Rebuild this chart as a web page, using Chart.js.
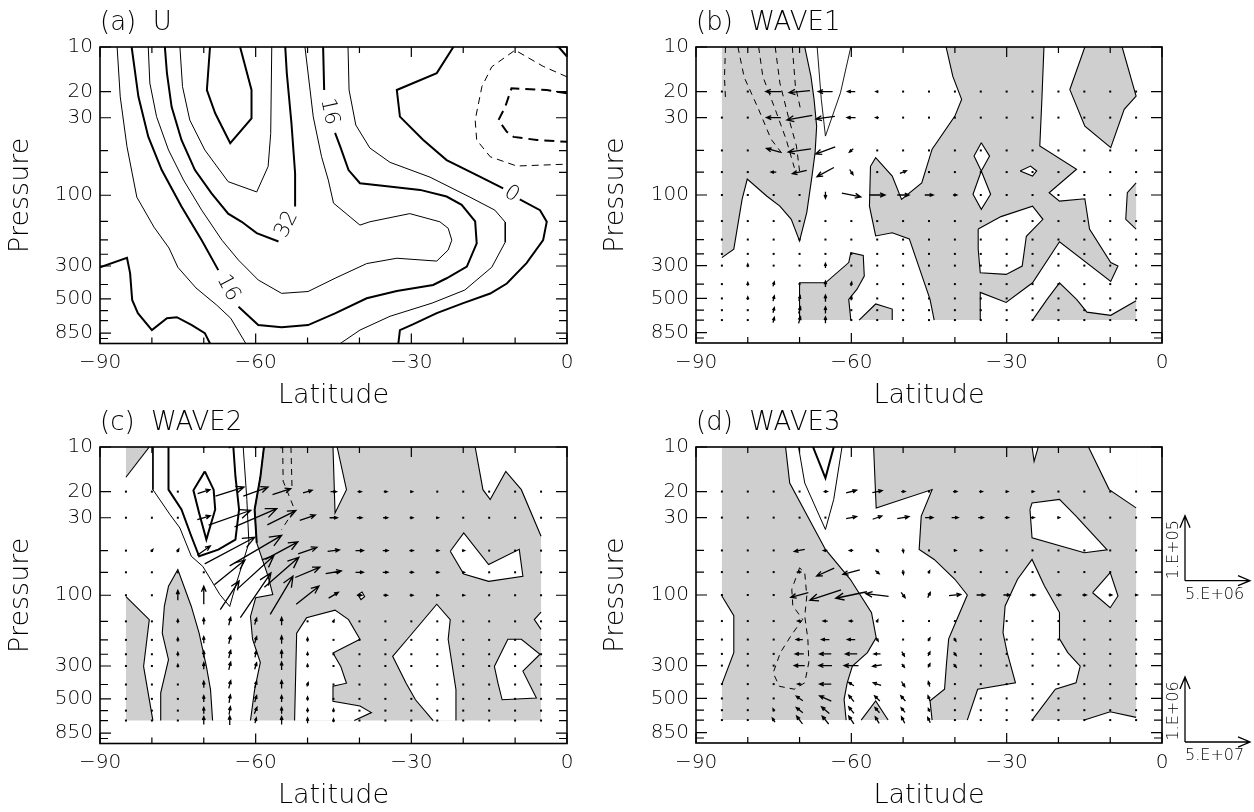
<!DOCTYPE html>
<html>
<head>
<meta charset="utf-8">
<title>U and wave activity flux</title>
<script src="https://cdn.jsdelivr.net/npm/chart.js@4.4.1/dist/chart.umd.min.js"></script>
<style>
  html, body { margin: 0; padding: 0; background: #fff; }
  body { width: 1254px; height: 812px; position: relative; overflow: hidden; }
  canvas { position: absolute; }
</style>
</head>
<body>
<canvas id="panelA" width="600" height="420" style="left:0;top:0"></canvas>
<canvas id="panelB" width="654" height="420" style="left:600px;top:0"></canvas>
<canvas id="panelC" width="600" height="412" style="left:0;top:400px"></canvas>
<canvas id="panelD" width="654" height="412" style="left:600px;top:400px"></canvas>
<script>
// ---- axes ----
const latTicks = [-90, -60, -30, 0];
const latMinor = [-80, -70, -50, -40, -20, -10];
const presTicks = [10, 20, 30, 100, 300, 500, 850];
const presMinor = [50, 70, 150, 200, 250, 400, 600, 700, 925];

// grid of the flux vectors
const gridLats = [-85, -80, -75, -70, -65, -60, -55, -50, -45, -40, -35, -30, -25, -20, -15, -10, -5];
const gridLevels = [20, 30, 50, 70, 100, 150, 200, 250, 300, 400, 500, 600, 700];
const fluxDomain = [[-85, 10], [-5, 10], [-5, 700], [-85, 700]];

// ---- (a) zonal mean U, contours [lat, hPa] ----
const uZeroPolar = [[-90, 306], [-84.8, 264], [-84.2, 335], [-83.8, 509], [-82.7, 624], [-80, 812], [-77.1, 676], [-75.2, 665], [-72.3, 751], [-69.8, 851], [-68.8, 1000]];
const uEightPolar = [[-86.7, 10], [-86.1, 21.7], [-84.8, 47], [-82.9, 103], [-79.6, 164], [-76.7, 227], [-75, 306], [-71.5, 422], [-67.5, 551], [-64.8, 676], [-61.9, 1000]];
const uSixteenWest = [[-83.9, 10], [-82.6, 21.6], [-80.7, 40.3], [-78.1, 67.6], [-74.3, 119], [-70.4, 201], [-67.2, 320]];
const uSixteenMid = [[-63.3, 565], [-59.5, 751], [-55, 778], [-49.9, 751], [-44.7, 627], [-38.6, 495], [-32.8, 442], [-25.8, 403], [-23.2, 363], [-19.3, 303], [-17.4, 211], [-17.7, 150], [-20.3, 116], [-23.2, 102], [-28.3, 92], [-34.7, 87], [-39.9, 83], [-42.1, 67.6], [-43.7, 47], [-44.7, 38]];
const uSixteenTop = [[-46.8, 19.5], [-47, 10]];
const uTwentyFour = [[-80.7, 10], [-80.4, 17.5], [-79.1, 29.5], [-76.8, 49.5], [-73.9, 79], [-70.4, 126], [-66.5, 201], [-63.3, 274], [-59.5, 373], [-55, 459], [-49.9, 446], [-44.7, 363], [-38.6, 289], [-32.8, 266], [-25.1, 278], [-22.9, 234], [-22.2, 201], [-22.9, 167], [-24.5, 151], [-30.3, 133], [-38, 151], [-39.9, 159], [-41.8, 140], [-45, 113], [-46, 79], [-47.3, 55], [-48.9, 29.6], [-49.9, 15], [-50.5, 10]];
const uThirtyTwoA = [[-77.5, 10], [-77.1, 15], [-76.2, 25.3], [-74.3, 42.4], [-71.7, 67.6], [-68.5, 97], [-65.3, 133], [-62.7, 151], [-59.8, 180], [-55.6, 205]];
const uThirtyTwoB = [[-52.4, 119], [-52.4, 71], [-53.1, 32.8], [-54, 15], [-54.3, 10]];
const uForty = [[-74.6, 10], [-74.1, 18.5], [-72.7, 31.1], [-69.8, 49.5], [-65.3, 81], [-59.8, 95], [-57.6, 64], [-57.1, 38.3], [-56.9, 10]];
const uFortyEight = [[-68.8, 10], [-69.4, 19.5], [-67.8, 28], [-64.9, 44.6], [-60.8, 30.3], [-60.8, 19.5], [-63, 10]];
const uEightEast = [[-42.2, 10], [-42, 19.5], [-40.7, 33.6], [-38, 48], [-34.1, 60], [-26.4, 75.5], [-18.7, 103], [-13.9, 126], [-11.9, 152], [-11.9, 207], [-14.5, 306], [-19.7, 436], [-26, 534], [-34.1, 655], [-39.9, 812], [-43.7, 1000]];
const uZeroEastA = [[-21.9, 10], [-25.1, 15], [-32.8, 19.5], [-32.2, 29.5], [-27.7, 42.4], [-23.2, 57.9], [-16.8, 75], [-12.3, 90]];
const uZeroEastB = [[-9.1, 106.5], [-5.2, 126], [-3.9, 151], [-4.6, 201], [-7.8, 287], [-11.6, 394], [-14.8, 460], [-20, 534], [-25.1, 624], [-29.6, 740], [-32.2, 812], [-32.5, 1000]];
const uZeroCorner = [[-1.6, 10], [0, 11.6]];
const uMinusEight = [[0, 15.9], [-4.6, 13.5], [-10, 10.5], [-14.5, 13.6], [-16.4, 18.5], [-17.7, 31.1], [-17.4, 42.4], [-14.8, 55], [-9.7, 63.5], [0, 61.7]];
const uMinusSixteen = [[0, 20.5], [-3.9, 19.5], [-10.7, 19], [-11.9, 25.3], [-13.2, 31.1], [-11.6, 37.3], [-10.3, 40.4], [-5.8, 42.4], [0, 43.6]];
// [lat, hPa, text, rotation in degrees]
const uLabels = [[-65.3, 422, '16', 62], [-45.8, 27.3, '16', 78], [-54, 157, '32', -64], [-10.7, 98, '0', 33]];

// ---- (b) WAVE1 ----
const bShadeWest = [[-85, 10], [-69, 10], [-67.8, 15.8], [-67.2, 22.6], [-66.7, 34.3], [-67, 51.8], [-67.6, 74.5], [-68.6, 131], [-70, 204], [-71.6, 146], [-73.8, 119], [-76.3, 102], [-80.1, 78], [-81.1, 107], [-82.7, 232], [-85, 265]];
const bShadeCentral = [[-41.7, 10], [-22.8, 10], [-23.2, 22.6], [-23.6, 46.7], [-16.5, 67], [-21.8, 96.5], [-19.8, 110], [-14.9, 106], [-14, 170], [-9.9, 286], [-8.5, 302], [-9.9, 384], [-19.8, 207], [-25, 392], [-30.1, 532], [-35.1, 455], [-35.1, 700], [-44, 700], [-44.8, 507], [-48.8, 198], [-52.1, 180], [-55.3, 189], [-56.5, 119], [-56.3, 64], [-55.3, 56], [-52.1, 74.5], [-50.3, 107], [-46.4, 83], [-44.4, 49], [-40, 29.3], [-38.7, 22.6], [-40.4, 15.8]];
const bShadeNorthTop = [[-14.9, 10], [-7.7, 10], [-5, 21.5], [-7.3, 26.4], [-9.9, 47.9], [-14.9, 34.3], [-17.8, 19.4]];
const bShadeEdge = [[-5, 82.7], [-6.7, 96.5], [-7, 146], [-5, 170]];
const bShadeIsland = [[-70, 700], [-70, 392], [-65, 392], [-60.5, 286], [-60.1, 245], [-57.7, 256], [-57.5, 353], [-58.9, 433], [-60.5, 507], [-60.1, 700]];
const bShadeBump = [[-58.5, 700], [-55.3, 545], [-52.1, 590], [-52.1, 700]];
const bShadeLow = [[-25, 700], [-22.2, 507], [-19.8, 392], [-16.5, 507], [-14.5, 619], [-9.9, 650], [-5, 519], [-5, 700]];
const bClearBowtie = [[-34.9, 44.3], [-33.3, 54.6], [-34.9, 68.8], [-33.1, 98.9], [-34.9, 125], [-36.5, 98.9], [-34.9, 68.8], [-36.3, 54.6]];
const bClearSmall = [[-27.4, 68.8], [-25.4, 63.8], [-24.2, 68.8], [-25, 74.5]];
const bClearLower = [[-35.5, 170], [-31.1, 140], [-25, 119], [-23, 146], [-26.2, 190], [-27, 302], [-30.1, 344], [-35.1, 335], [-35.5, 232]];
const bThinV = [[-66.6, 10], [-65.8, 22.6], [-65, 40], [-62.1, 20.4], [-60.1, 10]];
const bDash1 = [[-84.3, 10], [-84.5, 16], [-84.3, 22.6]];
const bDash2 = [[-81.9, 10], [-80.7, 16], [-77.9, 26.4], [-75.5, 42], [-73, 54.6]];
const bDash3 = [[-77.9, 10], [-77.1, 15.8], [-74.7, 26.4], [-72.6, 42], [-71, 65.5]];
const bDash4 = [[-74.7, 10], [-73.8, 17.5], [-72.2, 29.3], [-70.6, 46.7], [-70, 68.8]];
const bDash5 = [[-71.4, 10], [-70.8, 18.4], [-69.8, 26.4]];
// flux vectors [lat, hPa, Fy, Fz], in units of the key arrows
const bFlux = [
  [-75, 20, -0.24, 0], [-70, 20, -0.32, -0.03], [-65, 20, -0.22, 0], [-60, 20, -0.12, 0], [-55, 20, -0.04, 0],
  [-75, 30, -0.22, 0], [-70, 30, -0.39, -0.07], [-65, 30, -0.29, -0.04], [-60, 30, -0.13, 0], [-55, 30, -0.05, 0],
  [-75, 50, -0.22, 0.06], [-70, 50, -0.35, -0.05], [-65, 50, -0.3, -0.11], [-60, 50, -0.06, -0.05],
  [-75, 70, -0.08, 0], [-70, 70, -0.22, -0.05], [-65, 70, -0.26, -0.14], [-60, 70, 0.05, -0.08], [-50, 70, 0.1, 0.04],
  [-65, 100, 0, -0.1], [-60, 100, 0.29, -0.06], [-55, 100, 0.24, 0], [-50, 100, 0.18, 0], [-45, 100, 0.13, 0], [-40, 100, 0.06, 0],
  [-80, 300, 0, 0.05], [-80, 400, 0, 0.05], [-80, 500, 0, 0.05],
  [-75, 400, 0.02, 0.07], [-75, 500, 0.02, 0.08], [-75, 600, 0.02, 0.08], [-75, 700, 0.02, 0.08],
  [-70, 500, 0.02, 0.08], [-70, 600, 0.03, 0.1], [-70, 700, 0.03, 0.1],
  [-65, 300, 0, 0.07], [-65, 400, 0, 0.09], [-65, 500, 0, 0.1], [-65, 600, 0, 0.1], [-65, 700, 0, 0.1],
  [-60, 400, 0.01, 0.06], [-60, 500, 0.01, 0.06]
];

// ---- (c) WAVE2 ----
const cClearWest = [[-80.5, 10], [-58.4, 10], [-59.1, 16], [-60.2, 26.4], [-59.8, 44.3], [-57.6, 74.5], [-56.7, 99], [-60, 104], [-61, 139], [-60.6, 198], [-59.1, 284], [-60.2, 433], [-61, 700], [-68.3, 700], [-68.7, 433], [-69.5, 302], [-70.9, 180], [-72.4, 119], [-75, 67], [-76.8, 87], [-77.6, 119], [-78, 180], [-76.8, 272], [-78.3, 455], [-78.3, 700], [-79.8, 700], [-81.6, 302], [-80.5, 146], [-85, 102], [-85, 16]];
const cClearTopV = [[-45.1, 10], [-44.3, 10], [-42.5, 19.4], [-44.7, 27.9]];
const cClearMid = [[-52.5, 700], [-52.1, 180], [-50.2, 142], [-44.7, 126], [-42.1, 146], [-39.9, 198], [-45.1, 245], [-43.6, 302], [-42.5, 392], [-45.1, 411], [-45.1, 519], [-39.9, 559], [-37.7, 619], [-41, 700]];
const cClearSub = [[-33.6, 258], [-30.3, 189], [-25.1, 115], [-22.5, 146], [-22.9, 198], [-21.4, 433], [-21.4, 700], [-25.8, 700], [-29.2, 507], [-31, 392]];
const cClearLowEq = [[-14, 302], [-11.4, 198], [-8.8, 198], [-5.2, 250], [-8.5, 325], [-5.9, 493], [-12.5, 507], [-13.3, 392]];
const cClearTopEq = [[-17.7, 10], [-5, 10], [-5, 40], [-8.8, 19.4], [-11.8, 14.6], [-14.8, 22.6], [-16.2, 19.4]];
const cClearV = [[-22.5, 50.5], [-19.9, 38], [-15.1, 62], [-9.2, 49], [-8.5, 74.5], [-15.1, 80.6], [-19.9, 72]];
const cClearDot = [[-40.3, 99], [-39.5, 95], [-39, 102], [-39.7, 107]];
const cClearNotch = [[-6.3, 146], [-5, 130], [-5, 170]];
const cInner1 = [[-79.8, 10], [-79.8, 19.4], [-76.5, 28.6], [-74.6, 35.2], [-72.4, 54.6], [-70.2, 63.8], [-66.9, 99], [-65, 119], [-63.9, 87], [-61.3, 44.3], [-61.7, 22.6], [-62.4, 10]];
const cInner2 = [[-76.8, 10], [-76.8, 19.4], [-74.3, 26.4], [-72.4, 40], [-70.9, 54.6], [-67.2, 49.2], [-63.9, 42.1], [-63.2, 26.4], [-63.9, 15.8], [-64.3, 10]];
const cInner3 = [[-69.8, 14.6], [-72, 19.6], [-70.9, 27.9], [-69.5, 42.1], [-67.8, 26.4], [-68.1, 19.4], [-69.8, 14.6]];
const cEdgeThick = [[-58.4, 10], [-59.1, 16], [-60.2, 26.4], [-59.8, 44.3]];
const cDash = [[-54.8, 10], [-54.7, 17], [-52.5, 26.4], [-55, 36.1]];
const cDash2 = [[-53.2, 10], [-53, 18.4]];
const cFlux = [
  [-70, 10, 0.04, 0], [-65, 10, 0.04, 0], [-60, 10, 0.04, 0], [-55, 10, 0.04, 0],
  [-70, 20, 0.19, 0.06], [-65, 20, 0.44, 0.14], [-60, 20, 0.38, 0.14], [-55, 20, 0.28, 0.09], [-50, 20, 0.14, 0.04], [-45, 20, 0.09, 0], [-40, 20, 0.06, 0], [-35, 20, 0.05, 0], [-30, 20, 0.04, 0], [-25, 20, 0.03, 0],
  [-70, 30, 0.2, 0.06], [-65, 30, 0.65, 0.23], [-60, 30, 0.65, 0.28], [-55, 30, 0.44, 0.22], [-50, 30, 0.24, 0.08], [-45, 30, 0.12, 0], [-40, 30, 0.08, 0], [-35, 30, 0.07, 0], [-30, 30, 0.05, 0], [-25, 30, 0.04, 0], [-20, 30, 0.03, 0],
  [-80, 50, 0.03, 0.04], [-75, 50, 0.03, 0.05], [-70, 50, 0.2, 0.14], [-65, 50, 0.77, 0.41], [-60, 50, 0.8, 0.47], [-55, 50, 0.5, 0.27], [-50, 50, 0.29, 0.1], [-45, 50, 0.18, 0.02], [-40, 50, 0.12, 0], [-35, 50, 0.08, 0], [-30, 50, 0.06, 0], [-25, 50, 0.05, 0], [-20, 50, 0.04, 0],
  [-65, 70, 0.47, 0.38], [-60, 70, 0.56, 0.51], [-55, 70, 0.53, 0.46], [-50, 70, 0.38, 0.16], [-45, 70, 0.24, 0.04], [-40, 70, 0.12, 0], [-35, 70, 0.08, 0], [-30, 70, 0.06, 0], [-25, 70, 0.05, 0], [-20, 70, 0.04, 0],
  [-75, 100, 0, 0.15], [-70, 100, 0, 0.28], [-65, 100, 0.29, 0.44], [-60, 100, 0.47, 0.69], [-55, 100, 0.35, 0.59], [-50, 100, 0.35, 0.28], [-45, 100, 0.15, 0.09], [-40, 100, 0.08, 0], [-35, 100, 0.06, 0], [-30, 100, 0.05, 0], [-25, 100, 0.04, 0], [-20, 100, 0.04, 0],
  [-75, 150, 0, 0.06], [-75, 200, 0, 0.06], [-75, 250, 0, 0.06], [-75, 300, 0, 0.05],
  [-70, 150, 0, 0.1], [-70, 200, 0, 0.1], [-70, 250, 0, 0.1], [-70, 300, 0, 0.1], [-70, 400, 0, 0.1], [-70, 500, 0, 0.1], [-70, 600, 0, 0.1], [-70, 700, 0, 0.12],
  [-65, 150, 0.03, 0.12], [-65, 200, 0.03, 0.12], [-65, 250, 0.03, 0.12], [-65, 300, 0.03, 0.12], [-65, 400, 0.03, 0.12], [-65, 500, 0.02, 0.12], [-65, 600, 0.02, 0.12], [-65, 700, 0, 0.14],
  [-60, 150, 0.03, 0.1], [-60, 200, 0.03, 0.1], [-60, 250, 0.02, 0.1], [-60, 300, 0.03, 0.1], [-60, 400, 0.03, 0.1], [-60, 500, 0.03, 0.1], [-60, 600, 0.04, 0.1], [-60, 700, 0.02, 0.08],
  [-55, 150, 0, 0.12], [-55, 200, 0, 0.12], [-55, 250, 0, 0.12], [-55, 300, 0, 0.12], [-55, 400, 0, 0.12], [-55, 500, 0, 0.1], [-55, 600, 0, 0.1], [-55, 700, 0, 0.12],
  [-50, 200, 0, 0.06], [-50, 250, 0, 0.05], [-50, 300, 0, 0.05], [-50, 400, 0.02, 0.06], [-50, 500, 0, 0.06], [-50, 600, 0, 0.06], [-50, 700, 0, 0.08],
  [-45, 150, 0.02, 0.04], [-45, 600, 0, 0.05], [-45, 700, 0, 0.05]
];

// ---- (d) WAVE3 ----
const dClearMid = [[-72.7, 10], [-71.9, 17.5], [-65, 49.2], [-60.2, 78.3], [-56.1, 131.5], [-55.2, 194], [-56.9, 245], [-59.8, 302], [-60.8, 392], [-61.4, 507], [-61, 700], [-44.4, 700], [-44.8, 519], [-42, 433], [-41.6, 284], [-41.2, 198], [-39.6, 146], [-37.6, 100], [-40, 78.3], [-44, 57.5], [-46.9, 49.2], [-46.5, 29.3], [-44.4, 19.4], [-55.2, 25.8], [-55.7, 10]];
const dShadeTri = [[-58.1, 700], [-55.3, 519], [-52.9, 700]];
const dClearWestEdge = [[-85, 101.6], [-82.7, 138], [-82.7, 245], [-85, 400]];
const dClearCorner = [[-14.2, 10], [-10.2, 19.4], [-5, 25.8], [-5, 10]];
const dClearNotch = [[-25.1, 10], [-24.7, 12.5], [-23.9, 10]];
const dClearHole = [[-25.5, 26.4], [-25.1, 41.1], [-15, 51.8], [-10.6, 49.5], [-16.6, 29.3], [-19.8, 22.6], [-25.1, 23.9]];
const dClearDiamond = [[-13.4, 96.5], [-10, 70.6], [-8.5, 101.6], [-10, 122]];
const dClearLow = [[-25.1, 57.5], [-22.7, 87], [-19.8, 131.5], [-19.8, 198], [-18.2, 245], [-15.8, 302], [-16.6, 392], [-20.6, 433], [-25.1, 700], [-37.6, 700], [-35.6, 433], [-28.3, 392], [-29.9, 245], [-30.7, 180], [-30.3, 118.6], [-27.9, 78.3]];
const dClearSliver = [[-15, 700], [-10, 615], [-5, 671], [-5, 700]];
const dThinV = [[-70.2, 10], [-69, 17.5], [-65, 36.1], [-63.4, 22.6], [-61.8, 10]];
const dThickV = [[-67.4, 10], [-65, 16.2], [-63.4, 10]];
const dDashLoop = [[-70, 65.5], [-71.5, 91.5], [-71.3, 118.6], [-69.4, 146], [-71.5, 185], [-73.7, 245], [-75.1, 336], [-73.9, 414], [-71, 433], [-69, 392], [-68.2, 284], [-68.4, 198], [-69, 139], [-68.6, 101.6], [-69, 70.6], [-70, 65.5]];
const dFlux = [
  [-65, 20, 0.06, 0], [-60, 20, 0.16, 0.04], [-55, 20, 0.15, 0.03], [-50, 20, 0.06, 0], [-40, 20, 0.06, 0], [-35, 20, 0.05, 0], [-30, 20, 0.04, 0], [-25, 20, 0.04, 0], [-20, 20, 0.03, 0],
  [-60, 30, 0.16, 0.03], [-55, 30, 0.14, 0.05], [-50, 30, 0.18, 0.03], [-45, 30, 0.12, 0], [-40, 30, 0.1, 0], [-35, 30, 0.08, 0], [-30, 30, 0.06, 0], [-25, 30, 0.05, 0], [-20, 30, 0.04, 0],
  [-70, 50, -0.16, -0.03], [-65, 50, -0.06, 0], [-60, 50, -0.06, 0], [-55, 50, 0.04, -0.04], [-50, 50, 0.01, -0.06], [-40, 50, 0.04, 0], [-35, 50, 0.04, 0],
  [-70, 70, -0.06, 0], [-65, 70, -0.27, -0.12], [-60, 70, -0.26, -0.07], [-55, 70, 0.06, -0.05], [-50, 70, 0.01, -0.07], [-45, 70, 0.02, 0.04],
  [-70, 100, -0.27, -0.07], [-65, 100, -0.48, -0.16], [-60, 100, -0.48, -0.1], [-55, 100, -0.35, 0.04], [-50, 100, 0.06, -0.08], [-45, 100, 0.04, 0.08], [-40, 100, 0.18, 0.02], [-35, 100, 0.13, 0], [-30, 100, 0.1, 0], [-25, 100, 0.08, 0], [-20, 100, 0.07, 0], [-15, 100, 0.06, 0], [-10, 100, 0.05, 0], [-5, 100, 0.04, 0],
  [-70, 150, -0.06, 0], [-65, 150, -0.07, 0], [-60, 150, -0.06, 0], [-55, 150, 0.02, 0.04],
  [-70, 200, -0.1, 0], [-65, 200, -0.12, 0], [-60, 200, -0.12, 0], [-55, 200, 0.03, -0.05], [-45, 200, 0.03, 0.05], [-40, 200, 0.03, -0.05],
  [-70, 250, -0.13, 0], [-65, 250, -0.18, 0], [-60, 250, -0.18, 0], [-55, 250, -0.1, 0], [-50, 250, 0.04, -0.07], [-45, 250, 0.03, 0.06], [-40, 250, 0.04, -0.05],
  [-70, 300, -0.16, 0], [-65, 300, -0.2, 0], [-60, 300, -0.22, 0], [-55, 300, -0.14, -0.02], [-50, 300, 0.04, -0.05], [-45, 300, 0.03, 0.06], [-40, 300, 0.04, -0.05],
  [-70, 400, -0.06, 0], [-65, 400, -0.18, 0], [-60, 400, -0.08, 0.05], [-55, 400, -0.12, 0.04], [-50, 400, 0.05, -0.08], [-45, 400, -0.02, 0.08],
  [-70, 500, -0.1, 0.07], [-65, 500, -0.18, 0.08], [-60, 500, -0.08, 0.1], [-55, 500, -0.08, 0.08], [-50, 500, -0.07, 0.08], [-45, 500, -0.03, 0.08],
  [-75, 600, -0.02, 0.04], [-70, 600, -0.1, 0.08], [-65, 600, -0.12, 0.1], [-60, 600, -0.08, 0.1], [-55, 600, -0.07, 0.08], [-50, 600, -0.06, 0.07], [-45, 600, -0.02, 0.05],
  [-75, 700, -0.04, 0.06], [-70, 700, -0.09, 0.12], [-65, 700, -0.1, 0.12], [-60, 700, -0.08, 0.12], [-55, 700, -0.06, 0.1], [-50, 700, -0.05, 0.1], [-45, 700, -0.04, 0.08]
];

// key arrows: level of the origin, vertical and horizontal labels
const keyLevels = [80, 1000];
const keyFz = ['1.E+05', '1.E+06'];
const keyFy = ['5.E+06', '5.E+07'];

// ---- drawing ----
const FONT = '"DejaVu Sans", "Liberation Sans", sans-serif';
const WEIGHT = '200';
const SHADE = '#cfcfcf';
const REF = 65; // pixel length of a key arrow

const pts = list => list.map(([x, y]) => ({ x, y }));

function line(list, width, dash, order) {
  return {
    data: pts(list), borderColor: '#000', borderWidth: width, borderDash: dash || [],
    pointRadius: 0, fill: false, order: order || 1
  };
}

function onDomainEdge(a, b) {
  if (a[0] === b[0] && (a[0] === -85 || a[0] === -5)) return true;
  return a[1] === b[1] && (a[1] === 10 || a[1] === 700);
}

// split a closed ring into the parts that are real contours (not the data edge)
function outlinePieces(ring) {
  const n = ring.length;
  let start = 0;
  for (let i = 0; i < n; i++) {
    if (onDomainEdge(ring[i], ring[(i + 1) % n])) { start = (i + 1) % n; break; }
  }
  const pieces = [];
  let cur = [];
  for (let k = 0; k < n; k++) {
    const a = ring[(start + k) % n], b = ring[(start + k + 1) % n];
    if (onDomainEdge(a, b)) {
      if (cur.length > 1) pieces.push(cur);
      cur = [];
    } else {
      if (!cur.length) cur.push(a);
      cur.push(b);
    }
  }
  if (cur.length > 1) pieces.push(cur);
  return pieces;
}

function region(ring, color, order) {
  const sets = [{
    data: pts(ring), fill: 'shape', backgroundColor: color,
    borderColor: 'rgba(0,0,0,0)', borderWidth: 0, pointRadius: 0, order
  }];
  for (const piece of outlinePieces(ring)) sets.push(line(piece, 1.1));
  return sets;
}

function arrow(ctx, x0, y0, dx, dy, centred) {
  const len = Math.hypot(dx, dy);
  if (len < 2.5) { ctx.fillRect(x0 - 1, y0 - 1, 2, 2); return; }
  const xs = centred ? x0 - dx / 2 : x0, ys = centred ? y0 - dy / 2 : y0;
  const xe = xs + dx, ye = ys + dy;
  const h = Math.min(13, 2 + len * 0.22), ang = Math.atan2(dy, dx), w = 0.4;
  ctx.beginPath();
  ctx.moveTo(xs, ys);
  ctx.lineTo(xe, ye);
  ctx.moveTo(xe - h * Math.cos(ang - w), ye - h * Math.sin(ang - w));
  ctx.lineTo(xe, ye);
  ctx.lineTo(xe - h * Math.cos(ang + w), ye - h * Math.sin(ang + w));
  ctx.stroke();
}

function framePlugin(title) {
  return {
    id: 'frame',
    afterDraw(chart) {
      const { ctx, chartArea: a, scales: { x, y } } = chart;
      ctx.save();
      ctx.strokeStyle = '#000';
      ctx.lineWidth = 1.2;
      ctx.beginPath();
      for (const v of latTicks.concat(latMinor)) {
        const px = x.getPixelForValue(v);
        const len = latTicks.includes(v) ? 10 : 6;
        ctx.moveTo(px, a.bottom); ctx.lineTo(px, a.bottom - len);
        ctx.moveTo(px, a.top); ctx.lineTo(px, a.top + len);
      }
      for (const v of presTicks.concat(presMinor)) {
        const py = y.getPixelForValue(v);
        const len = presTicks.includes(v) ? 11 : 8;
        ctx.moveTo(a.left, py); ctx.lineTo(a.left + len, py);
        ctx.moveTo(a.right, py); ctx.lineTo(a.right - len, py);
      }
      ctx.stroke();
      ctx.lineWidth = 1.6;
      ctx.strokeRect(a.left, a.top, a.width, a.height);
      ctx.fillStyle = '#000';
      ctx.font = WEIGHT + ' 26px ' + FONT;
      ctx.textAlign = 'left';
      ctx.textBaseline = 'alphabetic';
      ctx.fillText(title, a.left, a.top - 17);
      ctx.restore();
    }
  };
}

function labelPlugin(labels) {
  return {
    id: 'contourLabels',
    afterDatasetsDraw(chart) {
      const { ctx, scales: { x, y } } = chart;
      ctx.save();
      ctx.font = WEIGHT + ' 21px ' + FONT;
      ctx.fillStyle = '#000';
      ctx.textAlign = 'center';
      ctx.textBaseline = 'middle';
      for (const [lat, p, text, deg] of labels) {
        ctx.save();
        ctx.translate(x.getPixelForValue(lat), y.getPixelForValue(p));
        ctx.rotate(deg * Math.PI / 180);
        ctx.fillText(text, 0, 0);
        ctx.restore();
      }
      ctx.restore();
    }
  };
}

function fluxPlugin(vectors) {
  return {
    id: 'flux',
    afterDatasetsDraw(chart) {
      const { ctx, chartArea: a, scales: { x, y } } = chart;
      const listed = new Set(vectors.map(v => v[0] + ':' + v[1]));
      ctx.save();
      ctx.beginPath();
      ctx.rect(a.left, a.top, a.width, a.height);
      ctx.clip();
      ctx.fillStyle = '#000';
      ctx.strokeStyle = '#000';
      ctx.lineWidth = 1.3;
      for (const p of gridLevels) {
        for (const lat of gridLats) {
          if (!listed.has(lat + ':' + p)) {
            ctx.fillRect(x.getPixelForValue(lat) - 1, y.getPixelForValue(p) - 1, 2, 2);
          }
        }
      }
      for (const [lat, p, fy, fz] of vectors) {
        arrow(ctx, x.getPixelForValue(lat), y.getPixelForValue(p), fy * REF, -fz * REF, true);
      }
      ctx.restore();
    }
  };
}

const keyPlugin = {
  id: 'fluxKey',
  afterDraw(chart) {
    const { ctx, chartArea: a, scales: { y } } = chart;
    ctx.save();
    ctx.strokeStyle = '#000';
    ctx.fillStyle = '#000';
    ctx.lineWidth = 1.3;
    ctx.font = WEIGHT + ' 16px ' + FONT;
    keyLevels.forEach((p, i) => {
      const ox = a.right + 23, oy = Math.min(y.getPixelForValue(p), a.bottom - 1);
      arrow(ctx, ox, oy, 0, -REF, false);
      arrow(ctx, ox, oy, REF, 0, false);
      ctx.textAlign = 'left';
      ctx.textBaseline = 'middle';
      ctx.fillText(keyFy[i], ox, oy + 14);
      ctx.save();
      ctx.translate(ox - 11, oy - 31);
      ctx.rotate(-Math.PI / 2);
      ctx.textAlign = 'center';
      ctx.fillText(keyFz[i], 0, 0);
      ctx.restore();
    });
    ctx.restore();
  }
};

function makePanel(id, opt) {
  return new Chart(document.getElementById(id), {
    type: 'line',
    data: { datasets: opt.datasets },
    options: {
      responsive: false,
      animation: false,
      events: [],
      layout: { padding: { left: 0, top: 47, right: opt.padRight, bottom: 0 } },
      plugins: { legend: { display: false }, tooltip: { enabled: false } },
      scales: {
        x: {
          type: 'linear', min: -90, max: 0,
          grid: { display: false, drawTicks: false },
          border: { display: false },
          afterBuildTicks: s => { s.ticks = latTicks.map(v => ({ value: v })); },
          afterFit: s => { s.height = opt.xHeight; },
          ticks: {
            autoSkip: false, maxRotation: 0, padding: 9.5, color: '#000',
            font: { family: FONT, size: 20, weight: WEIGHT, lineHeight: 1 },
            callback: v => (v < 0 ? '\u2212' + (-v) : String(v))
          },
          title: {
            display: true, text: 'Latitude', color: '#000',
            font: { family: FONT, size: 27, weight: WEIGHT, lineHeight: 1 },
            padding: { top: 0, bottom: opt.xTitlePad }
          }
        },
        y: {
          type: 'logarithmic', min: 10, max: 1000, reverse: true,
          grid: { display: false, drawTicks: false },
          border: { display: false },
          afterBuildTicks: s => { s.ticks = presTicks.map(v => ({ value: v })); },
          afterFit: s => { s.width = opt.yWidth; },
          ticks: {
            autoSkip: false, padding: 7, color: '#000',
            font: { family: FONT, size: 20, weight: WEIGHT, lineHeight: 1 },
            callback: v => String(v)
          },
          title: {
            display: true, text: 'Pressure', color: '#000',
            font: { family: FONT, size: 27, weight: WEIGHT, lineHeight: 1 },
            padding: { top: opt.yTitlePad, bottom: 0 }
          }
        }
      }
    },
    plugins: opt.plugins
  });
}

// (a)
makePanel('panelA', {
  padRight: 33, xHeight: 76.5, yWidth: 100, xTitlePad: 10.5, yTitlePad: 7,
  datasets: [
    line(uZeroPolar, 2), line(uEightPolar, 1),
    line(uSixteenWest, 2), line(uSixteenMid, 2), line(uSixteenTop, 2),
    line(uTwentyFour, 1), line(uThirtyTwoA, 2), line(uThirtyTwoB, 2),
    line(uForty, 1), line(uFortyEight, 2), line(uEightEast, 1),
    line(uZeroEastA, 2), line(uZeroEastB, 2), line(uZeroCorner, 2),
    line(uMinusEight, 1, [7, 5]), line(uMinusSixteen, 2, [10, 6])
  ],
  plugins: [labelPlugin(uLabels), framePlugin('(a)  U')]
});

// (b)
makePanel('panelB', {
  padRight: 92, xHeight: 77, yWidth: 96, xTitlePad: 10.5, yTitlePad: 2.5,
  datasets: [
    ...region(bShadeWest, SHADE, 5), ...region(bShadeCentral, SHADE, 5),
    ...region(bShadeNorthTop, SHADE, 5), ...region(bShadeEdge, SHADE, 5),
    ...region(bShadeIsland, SHADE, 5), ...region(bShadeBump, SHADE, 5),
    ...region(bShadeLow, SHADE, 5),
    ...region(bClearBowtie, '#fff', 4), ...region(bClearSmall, '#fff', 4),
    ...region(bClearLower, '#fff', 4),
    line(bThinV, 0.9),
    line(bDash1, 1, [6, 5]), line(bDash2, 1, [6, 5]), line(bDash3, 1, [6, 5]),
    line(bDash4, 1, [6, 5]), line(bDash5, 1, [6, 5])
  ],
  plugins: [fluxPlugin(bFlux), framePlugin('(b)  WAVE1')]
});

// (c)
makePanel('panelC', {
  padRight: 33, xHeight: 68.5, yWidth: 100, xTitlePad: 2.5, yTitlePad: 7,
  datasets: [
    ...region(fluxDomain, SHADE, 6),
    ...region(cClearWest, '#fff', 4), ...region(cClearTopV, '#fff', 4),
    ...region(cClearMid, '#fff', 4), ...region(cClearSub, '#fff', 4),
    ...region(cClearLowEq, '#fff', 4), ...region(cClearTopEq, '#fff', 4),
    ...region(cClearV, '#fff', 4), ...region(cClearDot, '#fff', 4),
    ...region(cClearNotch, '#fff', 4),
    line(cInner1, 1), line(cInner2, 2), line(cInner3, 2), line(cEdgeThick, 2),
    line(cDash, 1, [6, 5]), line(cDash2, 1, [6, 5])
  ],
  plugins: [fluxPlugin(cFlux), framePlugin('(c)  WAVE2')]
});

// (d)
makePanel('panelD', {
  padRight: 92, xHeight: 69, yWidth: 96, xTitlePad: 2.5, yTitlePad: 2.5,
  datasets: [
    ...region(fluxDomain, SHADE, 6),
    ...region(dClearMid, '#fff', 4), ...region(dClearCorner, '#fff', 4),
    ...region(dClearNotch, '#fff', 4), ...region(dClearHole, '#fff', 4),
    ...region(dClearDiamond, '#fff', 4), ...region(dClearLow, '#fff', 4),
    ...region(dClearWestEdge, '#fff', 4), ...region(dClearSliver, '#fff', 4),
    ...region(dShadeTri, SHADE, 3),
    line(dThinV, 1), line(dThickV, 2), line(dDashLoop, 1, [6, 5])
  ],
  plugins: [fluxPlugin(dFlux), framePlugin('(d)  WAVE3'), keyPlugin]
});
</script>
</body>
</html>
